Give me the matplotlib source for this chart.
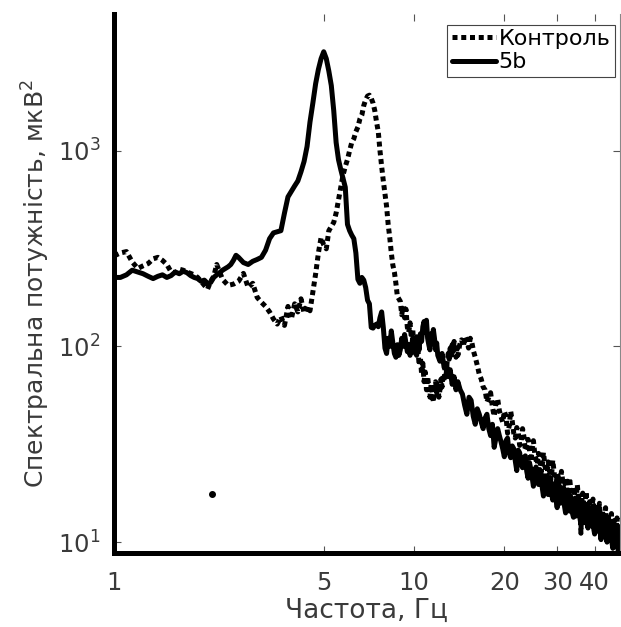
import matplotlib
matplotlib.use("Agg")
import matplotlib.pyplot as plt

# spectra: (frequency Hz, power uV^2)
ctrl_pts = [
    (1.00, 290), (1.05, 300), (1.10, 305), (1.15, 270), (1.20, 250), (1.25, 258), (1.30, 265),
    (1.35, 280), (1.40, 285), (1.45, 275), (1.50, 262), (1.55, 240), (1.60, 238), (1.65, 248),
    (1.70, 245), (1.75, 240), (1.80, 236), (1.85, 232), (1.90, 225), (1.95, 215), (2.00, 205),
    (2.05, 196), (2.10, 215), (2.15, 228), (2.20, 262), (2.25, 240), (2.30, 220), (2.40, 205),
    (2.50, 208), (2.60, 215), (2.70, 236), (2.80, 200), (2.90, 210), (3.00, 178), (3.10, 168),
    (3.20, 160), (3.30, 150), (3.40, 138), (3.50, 130), (3.60, 142), (3.70, 128), (3.80, 160),
    (3.90, 138), (4.00, 165), (4.10, 150), (4.20, 175), (4.30, 148), (4.40, 160), (4.50, 152),
    (4.60, 190), (4.70, 235), (4.80, 300), (4.90, 360), (5.00, 330), (5.10, 315), (5.20, 390),
    (5.30, 410), (5.40, 430), (5.50, 480), (5.60, 560), (5.70, 650), (5.80, 750), (5.90, 830),
    (6.00, 900), (6.10, 1000), (6.20, 1100), (6.30, 1150), (6.40, 1250), (6.50, 1320),
    (6.60, 1450), (6.70, 1520), (6.80, 1700), (6.90, 1820), (7.00, 1900), (7.10, 1920),
    (7.20, 1850), (7.30, 1750), (7.40, 1600), (7.50, 1400), (7.60, 1250), (7.70, 1000),
    (7.80, 830), (7.90, 700), (8.00, 600), (8.10, 520), (8.20, 420), (8.30, 360), (8.40, 300),
    (8.50, 260), (8.60, 240), (8.70, 210), (8.80, 180), (8.90, 175), (9.00, 170), (9.10, 145),
    (9.20, 160), (9.30, 140), (9.40, 155), (9.50, 125), (9.60, 118), (9.70, 132), (9.80, 110),
    (9.90, 122), (10.0, 100), (10.1, 112), (10.2, 90), (10.3, 98), (10.4, 80), (10.5, 88),
    (10.6, 72), (10.7, 82), (10.8, 66), (10.9, 74), (11.0, 60), (11.1, 70), (11.2, 62),
    (11.3, 55), (11.4, 64), (11.5, 58), (11.6, 52), (11.7, 60), (11.8, 66), (11.9, 58),
    (12.0, 63), (12.1, 55), (12.2, 60), (12.3, 68), (12.4, 62), (12.5, 72), (12.6, 66),
    (12.7, 78), (12.8, 72), (12.9, 84), (13.0, 92), (13.1, 86), (13.2, 98), (13.3, 90),
    (13.4, 102), (13.5, 94), (13.6, 106), (13.7, 96), (13.8, 88), (13.9, 98), (14.0, 90),
    (14.2, 102), (14.4, 108), (14.6, 100), (14.8, 112), (15.0, 106), (15.2, 98), (15.4, 110),
    (15.6, 104), (15.8, 94), (16.0, 88), (16.25, 80), (16.5, 72), (16.75, 68), (17.0, 62),
    (17.5, 52), (18.0, 58), (18.5, 44), (19.0, 54), (19.5, 43.7), (20.0, 46.6), (20.5, 36),
    (21.0, 46.6), (21.5, 36), (22.0, 38.5), (22.5, 31.2), (23.0, 38), (23.5, 29.3), (24.0, 33.5),
    (24.5, 25.8), (25.0, 33), (25.5, 26.3), (26.0, 28.4), (26.5, 22.8), (27.0, 28.7),
    (27.5, 22.7), (28.0, 25.7), (28.5, 20.6), (29.0, 26.2), (29.5, 20.6), (30.0, 22.4),
    (30.5, 18.1), (31.0, 23), (31.5, 18.8), (32.0, 21.3), (32.5, 16.6), (33.0, 21.3),
    (33.5, 16.5), (34.0, 19.1), (34.5, 15.6), (35.0, 19.7), (35.5, 15.9), (36.0, 11.1),
    (36.5, 17.8), (37.0, 14.1), (37.5, 18.1), (38.0, 14.2), (38.5, 16.1), (39.0, 13.3),
    (39.5, 16.6), (40.0, 13.7), (40.5, 15.6), (41.0, 12.2), (41.5, 15.8), (42.0, 12.7),
    (42.5, 14.4), (43.0, 11.7), (43.5, 15), (44.0, 11.7), (44.5, 13.4), (45.0, 11.1),
    (45.5, 14), (46.0, 11.4), (46.5, 12.9), (47.0, 10.3), (47.5, 13.3), (48.0, 10.6),
    (48.5, 12), (49.0, 9.9), (49.5, 12.4), (50.0, 10.1),
]
# in-between bins of the noisy tail
ctrl_tail = [
    (17.25, 60), (17.75, 55), (18.25, 49), (18.75, 51), (19.25, 47), (19.75, 41), (20.25, 44),
    (20.75, 39), (21.25, 41.5), (21.75, 34), (22.25, 36.5), (22.75, 33), (23.25, 34.5),
    (23.75, 30.5), (24.25, 30), (24.75, 29.5), (25.25, 28.5), (25.75, 25), (26.25, 27),
    (26.75, 24.6), (27.25, 25.5), (27.75, 21.6), (28.25, 24.4), (28.75, 22.2), (29.25, 23.4),
    (29.75, 19.4), (30.25, 21.6), (30.75, 19.8), (31.25, 21), (31.75, 17.6), (32.25, 19.6),
    (32.75, 18), (33.25, 19), (33.75, 17), (34.25, 18.2), (34.75, 16.6), (35.25, 17.6),
    (35.75, 15.2), (36.25, 16.2), (36.75, 15.6), (37.25, 16.6), (37.75, 14.8), (38.25, 15.4),
    (38.75, 14), (39.25, 15.6), (39.75, 14.2), (40.25, 14.8), (40.75, 13.4), (41.25, 14.6),
    (41.75, 13.2), (42.25, 13.6), (42.75, 12.6), (43.25, 13.8), (43.75, 12.4), (44.25, 12.8),
    (44.75, 12), (45.25, 13), (45.75, 11.6), (46.25, 12.4), (46.75, 11.2), (47.25, 12),
    (47.75, 11), (48.25, 11.6), (48.75, 10.6), (49.25, 11.4), (49.75, 10.4),
]

b5_pts = [
    (1.00, 225), (1.05, 225), (1.10, 232), (1.15, 245), (1.20, 240), (1.25, 235), (1.30, 228),
    (1.35, 222), (1.40, 228), (1.45, 232), (1.50, 225), (1.55, 230), (1.60, 240), (1.65, 235),
    (1.70, 242), (1.75, 238), (1.80, 230), (1.85, 225), (1.90, 222), (1.95, 215), (2.00, 218),
    (2.05, 210), (2.10, 212), (2.15, 225), (2.20, 232), (2.25, 238), (2.30, 245), (2.35, 250),
    (2.40, 255), (2.45, 262), (2.50, 275), (2.55, 292), (2.60, 285), (2.70, 268), (2.80, 262),
    (2.90, 272), (3.00, 278), (3.10, 285), (3.20, 310), (3.30, 355), (3.40, 380), (3.50, 385),
    (3.60, 390), (3.70, 480), (3.80, 580), (3.90, 620), (4.00, 660), (4.10, 700), (4.20, 780),
    (4.30, 880), (4.40, 1050), (4.50, 1400), (4.60, 1750), (4.70, 2200), (4.80, 2600),
    (4.90, 2950), (5.00, 3200), (5.10, 2950), (5.20, 2550), (5.30, 2150), (5.40, 1600),
    (5.50, 1100), (5.60, 900), (5.70, 800), (5.80, 720), (5.90, 650), (6.00, 420), (6.10, 390),
    (6.20, 370), (6.30, 355), (6.40, 300), (6.50, 220), (6.60, 210), (6.70, 225), (6.80, 218),
    (6.90, 200), (7.00, 172), (7.10, 165), (7.20, 125), (7.30, 124), (7.40, 128), (7.50, 130),
    (7.60, 126), (7.70, 140), (7.80, 150), (7.90, 125), (8.00, 98), (8.10, 92), (8.20, 110),
    (8.30, 100), (8.40, 120), (8.50, 104), (8.60, 92), (8.70, 88), (8.80, 102), (8.90, 90),
    (9.00, 96), (9.10, 110), (9.20, 100), (9.30, 115), (9.40, 104), (9.50, 94), (9.60, 102),
    (9.70, 90), (9.80, 98), (9.90, 110), (10.0, 100), (10.1, 92), (10.2, 112), (10.3, 104),
    (10.4, 96), (10.5, 116), (10.6, 106), (10.7, 126), (10.8, 134), (10.9, 118), (11.0, 136),
    (11.1, 110), (11.2, 102), (11.3, 96), (11.4, 116), (11.5, 106), (11.6, 122), (11.7, 110),
    (11.8, 96), (11.9, 104), (12.0, 90), (12.2, 84), (12.4, 92), (12.6, 78), (12.8, 82),
    (13.0, 70), (13.2, 76), (13.4, 64), (13.6, 70), (13.8, 60), (14.0, 66), (14.5, 57),
    (15.0, 45), (15.5, 53), (16.0, 40), (16.5, 45), (17.0, 38), (17.5, 45), (18.0, 35),
    (18.5, 30.5), (19.0, 38), (19.5, 32.5), (20.0, 27.3), (20.5, 34), (21.0, 27), (21.5, 30),
    (22.0, 23.2), (22.5, 28.6), (23.0, 24), (23.5, 27.6), (24.0, 21.2), (24.5, 23.7),
    (25.0, 19.3), (25.5, 24.2), (26.0, 19.7), (26.5, 22.5), (27.0, 17.2), (27.5, 20.7),
    (28.0, 17.5), (28.5, 21.4), (29.0, 16.4), (29.5, 18.2), (30.0, 15), (30.5, 19.3),
    (31.0, 16), (31.5, 17.8), (32.0, 14.1), (32.5, 18.2), (33.0, 14.4), (33.5, 16.2),
    (34.0, 13.4), (34.5, 16.8), (35.0, 13.8), (35.5, 15.8), (36.0, 12.3), (36.5, 15.9),
    (37.0, 12.6), (37.5, 14.4), (38.0, 11.8), (38.5, 15), (39.0, 12.1), (39.5, 13.4),
    (40.0, 11), (40.5, 14), (41.0, 11.7), (41.5, 13.2), (42.0, 10.3), (42.5, 13.3),
    (43.0, 10.8), (43.5, 12.1), (44.0, 10), (44.5, 12.5), (45.0, 10.4), (45.5, 11.8),
    (46.0, 9.3), (46.5, 12), (47.0, 9.5), (47.5, 10.8), (48.0, 9), (48.5, 11.1), (49.0, 9),
    (49.5, 10.4), (50.0, 8.8),
]
b5_tail = [
    (14.25, 60), (14.75, 50), (15.25, 55), (15.75, 44), (16.25, 48), (16.75, 41), (17.25, 43),
    (17.75, 38), (18.25, 40), (18.75, 34), (19.25, 35), (19.75, 30), (20.25, 33), (20.75, 28.5),
    (21.25, 31), (21.75, 26), (22.25, 29.5), (22.75, 25), (23.25, 27), (23.75, 23),
    (24.25, 25.5), (24.75, 21.5), (25.25, 23), (25.75, 20.5), (26.25, 23.5), (26.75, 19),
    (27.25, 21.8), (27.75, 18.2), (28.25, 20), (28.75, 17.6), (29.25, 19.6), (29.75, 16.5),
    (30.25, 18.4), (30.75, 15.8), (31.25, 18.6), (31.75, 15.2), (32.25, 17), (32.75, 14.8),
    (33.25, 17.2), (33.75, 14), (34.25, 15.8), (34.75, 13.6), (35.25, 16.4), (35.75, 13.2),
    (36.25, 15), (36.75, 13), (37.25, 15.4), (37.75, 12.4), (38.25, 14.2), (38.75, 12.4),
    (39.25, 14.6), (39.75, 11.6), (40.25, 13.4), (40.75, 11.4), (41.25, 13.8), (41.75, 11.2),
    (42.25, 12.4), (42.75, 10.8), (43.25, 12.8), (43.75, 10.4), (44.25, 11.6), (44.75, 10.2),
    (45.25, 12.2), (45.75, 9.8), (46.25, 11.2), (46.75, 9.9), (47.25, 11.5), (47.75, 9.3),
    (48.25, 10.2), (48.75, 9.2), (49.25, 10.6), (49.75, 9.0),
]

# lone dot near the lower left
f_dot = [2.12]
p_dot = [17.7]

x_ticks = [1, 5, 10, 20, 30, 40]
y_ticks = [10, 100, 1000]
y_tick_labels = ["$10^1$", "$10^2$", "$10^3$"]

f_ctrl, p_ctrl = zip(*sorted(ctrl_pts + ctrl_tail))
f_5b, p_5b = zip(*sorted(b5_pts + b5_tail))

grey = "#3a3a3a"
plt.rcParams["font.family"] = ["DejaVu Sans"]
plt.rcParams["mathtext.default"] = "regular"

fig = plt.figure(figsize=(6.21, 6.27), dpi=100)
ax = fig.add_axes([0.1836, 0.118, 0.8144, 0.86])

ax.plot(f_ctrl, p_ctrl, color="black", lw=3.6, linestyle=(0, (1, 0.75)),
        dash_capstyle="butt", label="Контроль")
ax.plot(f_5b, p_5b, color="black", lw=3.6, solid_capstyle="round", label="5b")
ax.plot(f_dot, p_dot, "o", color="black", ms=4)

ax.set_xscale("log")
ax.set_yscale("log")
ax.set_xlim(1, 48.5)
ax.set_ylim(8.8, 5000)

ax.set_xticks(x_ticks)
ax.set_xticklabels([str(t) for t in x_ticks])
ax.set_yticks(y_ticks)
ax.set_yticklabels(y_tick_labels)
ax.minorticks_off()
ax.tick_params(which="both", direction="in", length=5, width=0.8, color="#555555",
               labelsize=17.5, labelcolor=grey, top=True, right=True)
ax.tick_params(axis="x", pad=13)
ax.tick_params(axis="y", pad=10)

for side in ["left", "bottom"]:
    ax.spines[side].set_linewidth(3.6)
    ax.spines[side].set_color("black")
ax.spines["top"].set_visible(False)
ax.spines["right"].set_linewidth(0.8)
ax.spines["right"].set_color("#888888")

ax.set_xlabel("Частота, Гц", fontsize=19, color=grey, labelpad=2)
ax.set_ylabel("Спектральна потужність, мкВ$^2$", fontsize=18, color=grey, labelpad=4)

leg = ax.legend(loc="upper right", bbox_to_anchor=(0.99, 0.98), fontsize=16,
                handlelength=2.0, handletextpad=0.1, borderpad=0.2, labelspacing=0.15,
                borderaxespad=0.0, fancybox=False, framealpha=1)
leg.get_frame().set_edgecolor("#444444")
leg.get_frame().set_linewidth(0.8)

fig.savefig("out.png", dpi=100)
